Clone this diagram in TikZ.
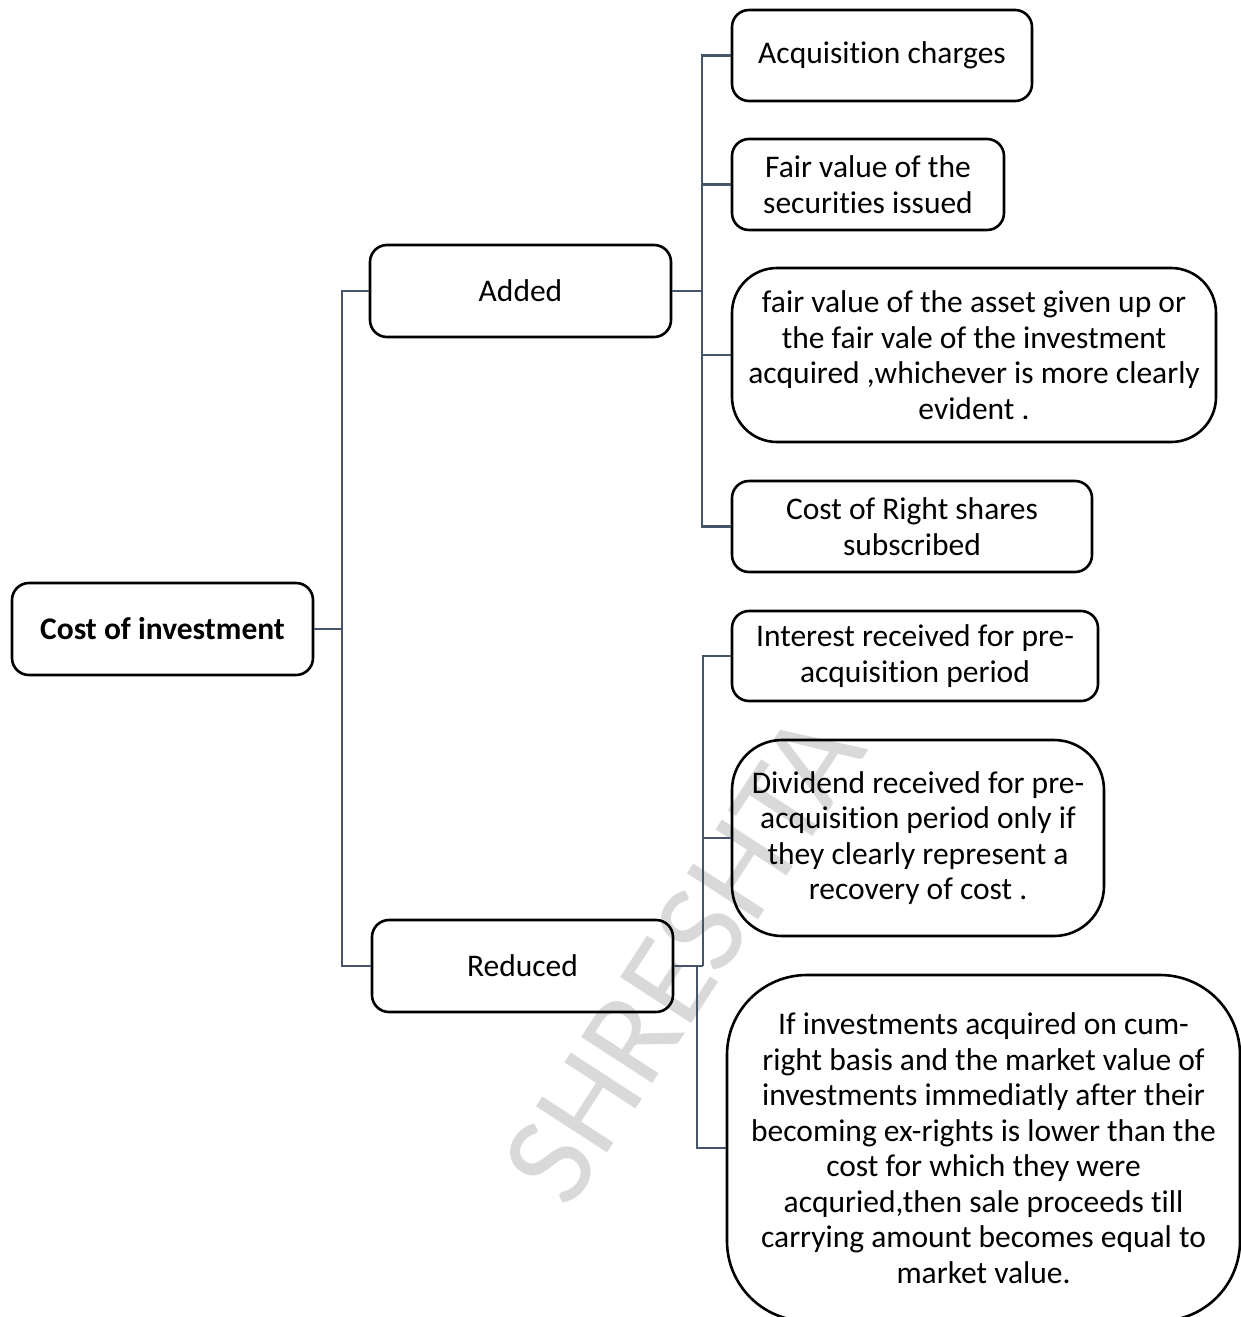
\documentclass[tikz,border=0pt]{standalone}
\usepackage{fontspec}
\setmainfont{Carlito}[Ligatures=NoCommon]
\begin{document}
\begin{tikzpicture}[x=1pt,y=-1pt,
  every node/.style={font=\fontsize{31.5}{35.5}\selectfont},
  card/.style={draw=black, line width=2.6pt, align=center, inner sep=0pt,
    rounded corners=#1},
  card/.default=17pt,
  conn/.style={draw=linkgray, line width=2.5pt}]
\definecolor{linkgray}{HTML}{44546A}
\definecolor{markgray}{HTML}{D9D9D9}
\useasboundingbox (0,0) rectangle (1241,1317);

% watermark behind everything
\node[text=markgray, rotate=57, font=\fontsize{132}{140}\selectfont] (mark) at (684,957) {SHRESHTA};

% root and branches
\node[card, minimum width=301pt, minimum height=92pt] (root) at (162.5,629) {\bfseries Cost of investment};
\node[card, minimum width=301pt, minimum height=92pt] (added) at (520.5,291) {Added};
\node[card, minimum width=301pt, minimum height=92pt] (reduced) at (522.5,966) {Reduced};

% items added to cost
\node[card, minimum width=300pt, minimum height=91pt] (a1) at (882,55.5) {Acquisition charges};
\node[card, minimum width=272pt, minimum height=91pt] (a2) at (868,184.5) {Fair value of the\\securities issued};
\node[card=45pt, minimum width=484pt, minimum height=174pt] (a3) at (974,355) {fair value of the asset given up or\\the fair vale of the investment\\acquired ,whichever is more clearly\\evident .};
\node[card, minimum width=360pt, minimum height=91pt] (a4) at (912,526.5) {Cost of Right shares\\subscribed};

% items reducing cost
\node[card, minimum width=366pt, minimum height=90pt] (r1) at (915,656) {Interest received for pre-\\acquisition period};
\node[card=50pt, minimum width=372pt, minimum height=196pt] (r2) at (918,838) {Dividend received for pre-\\acquisition period only if\\they clearly represent a\\recovery of cost .};
\node[card=80pt, minimum width=513pt, minimum height=346pt] (r3) at (983.5,1148) {If investments acquired on cum-\\right basis and the market value of\\investments immediatly after their\\becoming ex-rights is lower than the\\cost for which they were\\acquried,then sale proceeds till\\carrying amount becomes equal to\\market value.};

% elbow points of the tree
\coordinate (trunk) at (342,629);
\coordinate (addbus) at (702,291);
\coordinate (redbus) at (703,966);
\coordinate (redbusb) at (697,966);

% connectors
\draw[conn] (root.east) -- (trunk);
\draw[conn] (added.west) -| (trunk |- reduced.west) -- (reduced.west);
\draw[conn] (added.east) -- (addbus);
\draw[conn] (a1.west) -| (addbus |- a4.west) -- (a4.west);
\draw[conn] (a2.west) -- (addbus |- a2.west);
\draw[conn] (a3.west) -- (addbus |- a3.west);
\draw[conn] (reduced.east) -- (redbus);
\draw[conn] (r1.west) -| (redbus);
\draw[conn] (r2.west) -- (redbus |- r2.west);
\draw[conn] (redbusb) |- (r3.west);
\end{tikzpicture}
\end{document}
